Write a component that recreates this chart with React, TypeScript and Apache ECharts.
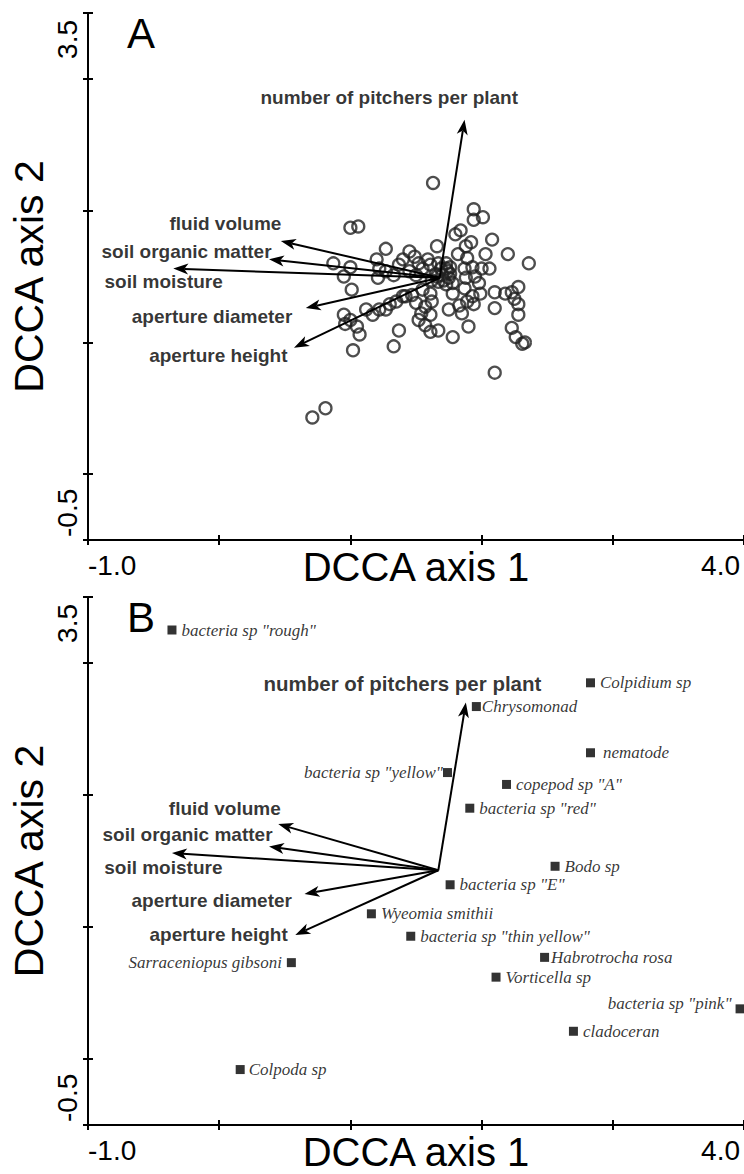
import React, { useEffect, useRef } from "react";
import * as echarts from "echarts";

const SANS = "'Liberation Sans', Arial, sans-serif";
const SERIF = "'Liberation Serif', 'Times New Roman', serif";

// axes
const xMin = -1.0;
const xMax = 4.0;
const yMin = -0.5;
const yMax = 3.5;
const xTicks = [-1, 0, 1, 2, 3, 4];
const yTicks = [-0.5, 0, 1, 2, 3, 3.5];
const yTickLabels = ["-0.5", "3.5"];
const axisTitleX = "DCCA axis 1";
const axisTitleY = "DCCA axis 2";
const panelLetters = ["A", "B"];

// environmental vectors
const envNames = [
  "number of pitchers per plant",
  "fluid volume",
  "soil organic matter",
  "soil moisture",
  "aperture diameter",
  "aperture height",
];
const envOriginA = [1.68, 1.49];
const envTipXA = [1.87, 0.47, 0.38, -0.35, 0.66, 0.57];
const envTipYA = [2.69, 1.77, 1.63, 1.56, 1.26, 0.96];
const envOriginB = [1.67, 1.43];
const envTipXB = [1.88, 0.45, 0.38, -0.36, 0.65, 0.58];
const envTipYB = [2.7, 1.78, 1.61, 1.56, 1.25, 0.94];

// panel A sample scores
const sampleX = [
  1.63, 1.0, 1.06, 1.94, 1.94, 2.01, 1.8, 1.84, 2.08, 2.2, 2.36, 1.27, 1.2, 0.87, 1.0, 0.95, 1.01, 1.66, 1.88, 1.92,
  1.82, 2.03, 1.89, 1.45, 1.49, 1.4, 1.37, 1.52, 1.59, 1.22, 1.27, 1.21, 1.33, 1.45, 1.5, 1.55, 1.61, 1.67, 1.73, 1.76,
  1.65, 1.7, 1.75, 1.67, 1.62, 1.73, 1.78, 1.87, 1.93, 2.0, 2.06, 1.88, 1.95, 1.98, 1.99, 1.93, 1.87, 1.89, 1.83, 1.94,
  2.1, 2.18, 2.23, 2.28, 2.25, 2.28, 2.28, 2.1, 2.23, 2.26, 2.31, 2.33, 1.78, 1.61, 1.55, 1.47, 1.42, 1.5, 1.57, 1.62,
  1.54, 1.61, 1.57, 1.61, 1.67, 1.52, 1.75, 1.85, 1.9, 1.78, 1.37, 1.33, 1.02, 0.95, 0.96, 1.0, 1.05, 1.07, 1.12, 1.17,
  1.22, 1.3, 1.35, 1.4, 1.27, 2.1, 0.71, 0.81, 1.69, 1.74, 1.71, 1.66, 1.76, 1.73,
];
const sampleY = [
  2.21, 1.87, 1.88, 2.01, 1.93, 1.95, 1.82, 1.85, 1.78, 1.67, 1.6, 1.71, 1.63, 1.6, 1.57, 1.5, 1.4, 1.73, 1.73, 1.76,
  1.67, 1.67, 1.64, 1.69, 1.65, 1.63, 1.59, 1.6, 1.63, 1.56, 1.54, 1.49, 1.51, 1.54, 1.51, 1.56, 1.59, 1.6, 1.6, 1.57,
  1.52, 1.51, 1.49, 1.46, 1.47, 1.44, 1.45, 1.56, 1.57, 1.56, 1.56, 1.49, 1.5, 1.45, 1.37, 1.35, 1.41, 1.31, 1.28, 1.29,
  1.38, 1.37, 1.38, 1.42, 1.33, 1.29, 1.21, 1.26, 1.11, 1.04, 0.99, 1.0, 1.37, 1.37, 1.4, 1.36, 1.35, 1.3, 1.27, 1.31,
  1.22, 1.21, 1.13, 1.08, 1.09, 1.17, 1.25, 1.22, 1.12, 1.04, 1.09, 0.97, 0.94, 1.21, 1.14, 1.17, 1.12, 1.06, 1.25, 1.21,
  1.25, 1.29, 1.31, 1.35, 1.25, 0.77, 0.43, 0.5, 1.56, 1.54, 1.47, 1.5, 1.52, 1.56,
];

// panel B species scores
const speciesNames = [
  'bacteria sp "rough"',
  "Colpidium sp",
  "Chrysomonad",
  "nematode",
  'bacteria sp "yellow"',
  'copepod sp "A"',
  'bacteria sp "red"',
  "Bodo sp",
  'bacteria sp "E"',
  "Wyeomia smithii",
  'bacteria sp "thin yellow"',
  "Sarraceniopus gibsoni",
  "Habrotrocha rosa",
  "Vorticella sp",
  'bacteria sp "pink"',
  "cladoceran",
  "Colpoda sp",
];
const speciesX = [-0.36, 2.83, 1.96, 2.83, 1.74, 2.19, 1.91, 2.56, 1.76, 1.16, 1.46, 0.55, 2.48, 2.11, 3.97, 2.7, 0.16];
const speciesY = [3.25, 2.85, 2.67, 2.32, 2.17, 2.08, 1.9, 1.46, 1.32, 1.1, 0.93, 0.73, 0.77, 0.62, 0.38, 0.21, -0.08];

// label layout (style only)
const envLabelOffsetA: Record<string, number[]> = {
  "number of pitchers per plant": [54, -22],
  "fluid volume": [1, -17],
  "soil organic matter": [3, -8],
  "soil moisture": [50, 13],
  "aperture diameter": [-13, 8],
  "aperture height": [-6, 8],
};
const envLabelOffsetB: Record<string, number[]> = {
  "number of pitchers per plant": [76, -19],
  "fluid volume": [3, -16],
  "soil organic matter": [4, -12],
  "soil moisture": [51, 14],
  "aperture diameter": [-12, 6],
  "aperture height": [-7, 0],
};
const speciesLabelLayout: Record<string, { side: string; dist: number; dy?: number }> = {
  'bacteria sp "yellow"': { side: "left", dist: 0 },
  "Sarraceniopus gibsoni": { side: "left", dist: 5 },
  'bacteria sp "pink"': { side: "left", dist: 4, dy: -5 },
  Chrysomonad: { side: "right", dist: 1 },
  nematode: { side: "right", dist: 8 },
  "Habrotrocha rosa": { side: "right", dist: 2 },
  "Colpoda sp": { side: "right", dist: 4 },
};

const fmt = (v: number) => v.toFixed(1);
const tickStyle = { color: "#000", width: 2 };
const tickLabelBase = { fontFamily: SANS, fontSize: 28, color: "#000" };

function xAxesFor(gridIndex: number) {
  return [
    {
      type: "value",
      gridIndex,
      position: "bottom",
      min: xMin,
      max: xMax,
      name: axisTitleX,
      nameLocation: "middle",
      nameGap: 7,
      nameMoveOverlap: false,
      nameTextStyle: { fontFamily: SANS, fontSize: 40, color: "#000" },
      axisLine: { show: true, onZero: false, lineStyle: { color: "#000", width: 2 } },
      axisTick: { show: true, inside: false, length: 5, customValues: xTicks, lineStyle: tickStyle },
      axisLabel: { show: true, customValues: [xTicks[0]], formatter: fmt, align: "left", margin: 11, ...tickLabelBase },
      splitLine: { show: false },
    },
    {
      type: "value",
      gridIndex,
      position: "bottom",
      min: xMin,
      max: xMax,
      axisLine: { show: false, onZero: false },
      axisTick: { show: true, inside: true, length: 5, customValues: xTicks, lineStyle: tickStyle },
      axisLabel: {
        show: true,
        customValues: [xTicks[xTicks.length - 1]],
        formatter: fmt,
        align: "right",
        padding: [0, 4, 0, 0],
        margin: 11,
        ...tickLabelBase,
      },
      splitLine: { show: false },
    },
  ];
}

function yAxesFor(gridIndex: number) {
  return [
    {
      type: "value",
      gridIndex,
      position: "left",
      min: yMin,
      max: yMax,
      name: axisTitleY,
      nameLocation: "middle",
      nameGap: 39,
      nameMoveOverlap: false,
      nameTextStyle: { fontFamily: SANS, fontSize: 41, color: "#000" },
      axisLine: { show: true, onZero: false, lineStyle: { color: "#000", width: 2 } },
      axisTick: { show: true, inside: false, length: 5, customValues: yTicks, lineStyle: tickStyle },
      axisLabel: { show: false },
      splitLine: { show: false },
    },
    {
      type: "value",
      gridIndex,
      position: "left",
      min: yMin,
      max: yMax,
      axisLine: { show: false, onZero: false },
      axisTick: { show: true, inside: true, length: 5, customValues: yTicks, lineStyle: tickStyle },
      axisLabel: { show: false },
      splitLine: { show: false },
    },
  ];
}

function arrowRender(params: any, api: any) {
  const p0 = api.coord([api.value(0), api.value(1)]);
  const p1 = api.coord([api.value(2), api.value(3)]);
  const dx = p1[0] - p0[0];
  const dy = p1[1] - p0[1];
  const len = Math.hypot(dx, dy) || 1;
  const ux = dx / len;
  const uy = dy / len;
  const hl = 15;
  const hw = 5.5;
  const notch = 11;
  const bx = p1[0] - ux * hl;
  const by = p1[1] - uy * hl;
  const nx = -uy;
  const ny = ux;
  const nb = [p1[0] - ux * notch, p1[1] - uy * notch];
  return {
    type: "group",
    children: [
      {
        type: "line",
        shape: { x1: p0[0], y1: p0[1], x2: nb[0], y2: nb[1] },
        style: { stroke: "#000", lineWidth: 2 },
      },
      {
        type: "polygon",
        shape: { points: [p1, [bx + nx * hw, by + ny * hw], nb, [bx - nx * hw, by - ny * hw]] },
        style: { fill: "#000" },
      },
    ],
  };
}

function arrowSeries(axisIndex: number, origin: number[], tx: number[], ty: number[]) {
  return {
    type: "custom",
    xAxisIndex: axisIndex,
    yAxisIndex: axisIndex,
    renderItem: arrowRender,
    clip: false,
    silent: true,
    encode: { x: [0, 2], y: [1, 3] },
    data: tx.map((x, i) => [origin[0], origin[1], x, ty[i]]),
    z: 5,
  };
}

function envLabelSeries(axisIndex: number, tx: number[], ty: number[], offsets: Record<string, number[]>, bigFirst: boolean) {
  return {
    type: "scatter",
    xAxisIndex: axisIndex,
    yAxisIndex: axisIndex,
    symbol: "circle",
    symbolSize: 1,
    silent: true,
    itemStyle: { color: "rgba(0,0,0,0)" },
    label: {
      show: true,
      position: "left",
      distance: 0,
      formatter: "{b}",
      align: "right",
      verticalAlign: "middle",
      fontFamily: SANS,
      fontWeight: "bold",
      fontSize: 19,
      color: "#000",
    },
    data: envNames.map((n, i) => ({
      name: n,
      value: [tx[i], ty[i]],
      label: { offset: offsets[n], fontSize: bigFirst && i === 0 ? 20.5 : 19 },
    })),
    z: 6,
  };
}

export default function App() {
  const ref = useRef<HTMLDivElement>(null);
  useEffect(() => {
    if (!ref.current) return;
    const chart = echarts.init(ref.current, null, { renderer: "svg" });
    const option: any = {
      animation: false,
      backgroundColor: "#fff",
      grid: [
        { left: 88, top: 13, width: 658, height: 527 },
        { left: 88, top: 597, width: 658, height: 528 },
      ],
      xAxis: [...xAxesFor(0), ...xAxesFor(1)],
      yAxis: [...yAxesFor(0), ...yAxesFor(1)],
      series: [
        {
          type: "scatter",
          xAxisIndex: 0,
          yAxisIndex: 0,
          symbol: "circle",
          symbolSize: 12,
          silent: true,
          itemStyle: { color: "rgba(0,0,0,0)", borderColor: "#222", borderWidth: 2.3 },
          data: sampleX.map((x, i) => [x, sampleY[i]]),
          z: 3,
        },
        arrowSeries(0, envOriginA, envTipXA, envTipYA),
        envLabelSeries(0, envTipXA, envTipYA, envLabelOffsetA, false),
        arrowSeries(2, envOriginB, envTipXB, envTipYB),
        envLabelSeries(2, envTipXB, envTipYB, envLabelOffsetB, true),
        {
          type: "scatter",
          xAxisIndex: 2,
          yAxisIndex: 2,
          symbol: "rect",
          symbolSize: 9,
          silent: true,
          itemStyle: { color: "#000" },
          label: {
            show: true,
            position: "right",
            distance: 5,
            formatter: "{b}",
            fontFamily: SERIF,
            fontStyle: "italic",
            fontSize: 17,
            color: "#000",
          },
          data: speciesNames.map((n, i) => {
            const l = speciesLabelLayout[n];
            return {
              name: n,
              value: [speciesX[i], speciesY[i]],
              label: l ? { position: l.side, distance: l.dist, offset: [0, l.dy || 0] } : undefined,
            };
          }),
          z: 4,
        },
      ],
    };
    chart.setOption(option);

    // y tick labels (rotated) and panel letters, positioned through the axis scales
    const graphics: any[] = [];
    [0, 1].forEach((g) => {
      const top = chart.convertToPixel({ gridIndex: g }, [xMin, yMax]) as number[];
      const bot = chart.convertToPixel({ gridIndex: g }, [xMin, yMin]) as number[];
      graphics.push({
        type: "text",
        x: top[0] - 7,
        y: top[1] + 7,
        rotation: Math.PI / 2,
        style: { text: yTickLabels[1], align: "right", verticalAlign: "bottom", fontFamily: SANS, fontSize: 28, fill: "#000" },
      });
      graphics.push({
        type: "text",
        x: bot[0] - 7,
        y: bot[1] - 3,
        rotation: Math.PI / 2,
        style: { text: yTickLabels[0], align: "left", verticalAlign: "bottom", fontFamily: SANS, fontSize: 28, fill: "#000" },
      });
      graphics.push({
        type: "text",
        x: top[0] + 39,
        y: top[1] + 20,
        style: { text: panelLetters[g], align: "left", verticalAlign: "middle", fontFamily: SANS, fontSize: 42, fill: "#000" },
      });
    });
    chart.setOption({ graphic: graphics });
    return () => chart.dispose();
  }, []);
  return (
    <div
      ref={ref}
      style={{ position: "absolute", left: 0, top: 0, width: 744, height: 1174, background: "#fff" }}
    />
  );
}
